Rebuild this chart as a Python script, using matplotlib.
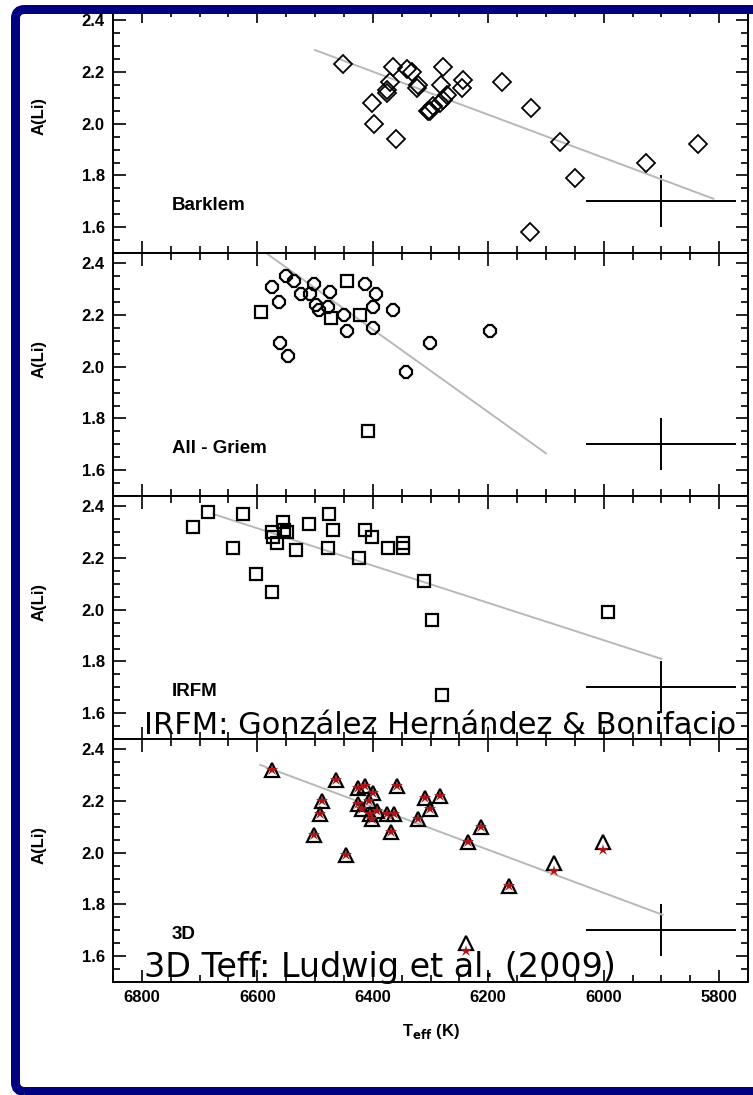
import matplotlib
matplotlib.use('Agg')
import matplotlib.pyplot as plt
from matplotlib.patches import FancyBboxPatch
from matplotlib.ticker import MultipleLocator, FormatStrFormatter
from matplotlib.transforms import IdentityTransform

# Barklem broadening
teff_bark = [6451, 6365, 6341, 6332, 6370, 6375, 6376, 6321, 6323, 6279, 6281, 6243, 6246, 6271, 6278,
             6284, 6296, 6301, 6304, 6402, 6398, 6360, 6177, 6126, 6076, 6049, 6128, 5927, 5837]
ali_bark = [2.23, 2.22, 2.21, 2.20, 2.16, 2.13, 2.12, 2.15, 2.14, 2.22, 2.15, 2.17, 2.14, 2.11, 2.09,
            2.08, 2.07, 2.05, 2.05, 2.08, 2.00, 1.94, 2.16, 2.06, 1.93, 1.79, 1.58, 1.85, 1.92]
fit_bark_teff = [6500, 5810]
fit_bark_ali = [2.285, 1.71]

# All - Griem
teff_griem = [6551, 6537, 6574, 6562, 6525, 6502, 6508, 6499, 6494, 6474, 6477, 6449, 6445, 6413, 6394,
              6400, 6400, 6365, 6561, 6547, 6301, 6342, 6197]
ali_griem = [2.35, 2.33, 2.31, 2.25, 2.28, 2.32, 2.28, 2.24, 2.22, 2.29, 2.23, 2.20, 2.14, 2.32, 2.28,
             2.23, 2.15, 2.22, 2.09, 2.04, 2.09, 1.98, 2.14]
teff_griem_sq = [6593, 6445, 6422, 6472, 6408]
ali_griem_sq = [2.21, 2.33, 2.20, 2.19, 1.75]
fit_griem_teff = [6585, 6100]
fit_griem_ali = [2.44, 1.665]

# IRFM
teff_irfm = [6685, 6712, 6625, 6642, 6603, 6574, 6556, 6554, 6574, 6572, 6566, 6548, 6533, 6510, 6475,
             6469, 6478, 6423, 6413, 6402, 6373, 6348, 6348, 6312, 6298, 6280, 5992]
ali_irfm = [2.38, 2.32, 2.37, 2.24, 2.14, 2.07, 2.34, 2.31, 2.30, 2.28, 2.26, 2.30, 2.23, 2.33, 2.37,
            2.31, 2.24, 2.20, 2.31, 2.28, 2.24, 2.26, 2.24, 2.11, 1.96, 1.67, 1.99]
fit_irfm_teff = [6676, 5900]
fit_irfm_ali = [2.37, 1.81]

# 3D
teff_3d = [6574, 6463, 6488, 6492, 6501, 6446, 6425, 6413, 6400, 6425, 6419, 6407, 6404, 6402, 6393,
           6376, 6363, 6369, 6358, 6322, 6310, 6301, 6284, 6235, 6212, 6164, 6086, 6002, 6239]
ali_3d = [2.32, 2.28, 2.20, 2.15, 2.07, 1.99, 2.25, 2.26, 2.23, 2.19, 2.17, 2.20, 2.15, 2.13, 2.16,
          2.15, 2.15, 2.08, 2.26, 2.13, 2.21, 2.17, 2.22, 2.04, 2.10, 1.87, 1.96, 2.04, 1.65]
ali_3d_red = [2.32, 2.28, 2.20, 2.15, 2.07, 1.99, 2.25, 2.26, 2.23, 2.19, 2.17, 2.20, 2.15, 2.13, 2.16,
              2.15, 2.15, 2.08, 2.26, 2.13, 2.21, 2.17, 2.22, 2.04, 2.10, 1.87, 1.93, 2.01, 1.62]
fit_3d_teff = [6595, 5898]
fit_3d_ali = [2.34, 1.76]

# typical error
err_teff, err_ali = 5900, 1.7
err_dteff, err_dali = 130, 0.1

panel_names = ['Barklem', 'All - Griem', 'IRFM', '3D']

plt.rcParams['font.family'] = ['Liberation Sans', 'DejaVu Sans']
plt.rcParams['font.weight'] = 'bold'

W, H = 753, 1095
fig = plt.figure(figsize=(W / 100, H / 100), dpi=100)
fig.patch.set_facecolor('white')

left, right = 113, 748
bottom_px = 982
ph = 243
axes = []
for i in range(4):
    bot = bottom_px - (3 - i) * ph
    ax = fig.add_axes([left / W, 1 - bot / H, (right - left) / W, ph / H])
    axes.append(ax)

grey = '#b8b8b8'
for ax in axes:
    ax.set_xlim(6850, 5750)
    ax.set_ylim(1.5, 2.44)
    ax.xaxis.set_major_locator(MultipleLocator(200))
    ax.xaxis.set_minor_locator(MultipleLocator(50))
    ax.yaxis.set_major_locator(MultipleLocator(0.2))
    ax.yaxis.set_minor_locator(MultipleLocator(0.05))
    ax.yaxis.set_major_formatter(FormatStrFormatter('%.1f'))
    ax.tick_params(which='both', direction='in', top=True, right=True, width=1.2)
    ax.tick_params(which='major', length=9, labelsize=12, pad=6)
    ax.tick_params(which='minor', length=5)
    for s in ax.spines.values():
        s.set_linewidth(1.4)
    ax.set_ylabel('A(Li)', fontsize=12, fontweight='bold')
    ax.yaxis.set_label_coords(-0.105, 0.565)
    ax.errorbar(err_teff, err_ali, xerr=err_dteff, yerr=err_dali, fmt='none',
                ecolor='black', elinewidth=1.4, capsize=0)
    if ax is not axes[-1]:
        ax.tick_params(labelbottom=False)

a1, a2, a3, a4 = axes
a1.plot(fit_bark_teff, fit_bark_ali, color=grey, lw=1.4)
a1.plot(teff_bark, ali_bark, 'D', ms=9, mfc='none', mec='black', mew=1.3)

a2.plot(fit_griem_teff, fit_griem_ali, color=grey, lw=1.4)
a2.plot(teff_griem, ali_griem, '8', ms=9, mfc='none', mec='black', mew=1.6)
a2.plot(teff_griem_sq, ali_griem_sq, 's', ms=8, mfc='none', mec='black', mew=1.6)

a3.plot(fit_irfm_teff, fit_irfm_ali, color=grey, lw=1.4)
a3.plot(teff_irfm, ali_irfm, 's', ms=8, mfc='none', mec='black', mew=1.6)

a4.plot(fit_3d_teff, fit_3d_ali, color=grey, lw=1.4)
a4.plot(teff_3d, ali_3d, '^', ms=10, mfc='none', mec='black', mew=1.6)
a4.plot(teff_3d, ali_3d_red, '*', ms=9, color='#a8161a', mew=0)

for ax, name in zip(axes, panel_names):
    ax.text(0.093, 0.195, name, transform=ax.transAxes, fontsize=13.5,
            fontweight='bold', va='center', ha='left')

a4.set_xlabel(r'T$_{\mathbf{eff}}$ (K)', fontsize=12, fontweight='bold', labelpad=12)

# slide frame
frame = FancyBboxPatch((15.5, 3.5), 800, H - 3.5 - 9.5,
                       boxstyle='round,pad=0,rounding_size=9',
                       transform=IdentityTransform(), fill=False,
                       edgecolor='#000080', linewidth=9 * 0.72, zorder=5)
fig.add_artist(frame)

fig.text(144 / W, 1 - 734 / H, 'IRFM: González Hernández & Bonifacio',
         fontsize=22, fontweight='normal', family='DejaVu Sans',
         va='baseline', ha='left', zorder=6)
fig.text(144 / W, 1 - 977 / H, '3D Teff: Ludwig et al. (2009)',
         fontsize=24, fontweight='normal', family='DejaVu Sans',
         va='baseline', ha='left', zorder=6)

fig.savefig('out.png', dpi=100, facecolor='white')
